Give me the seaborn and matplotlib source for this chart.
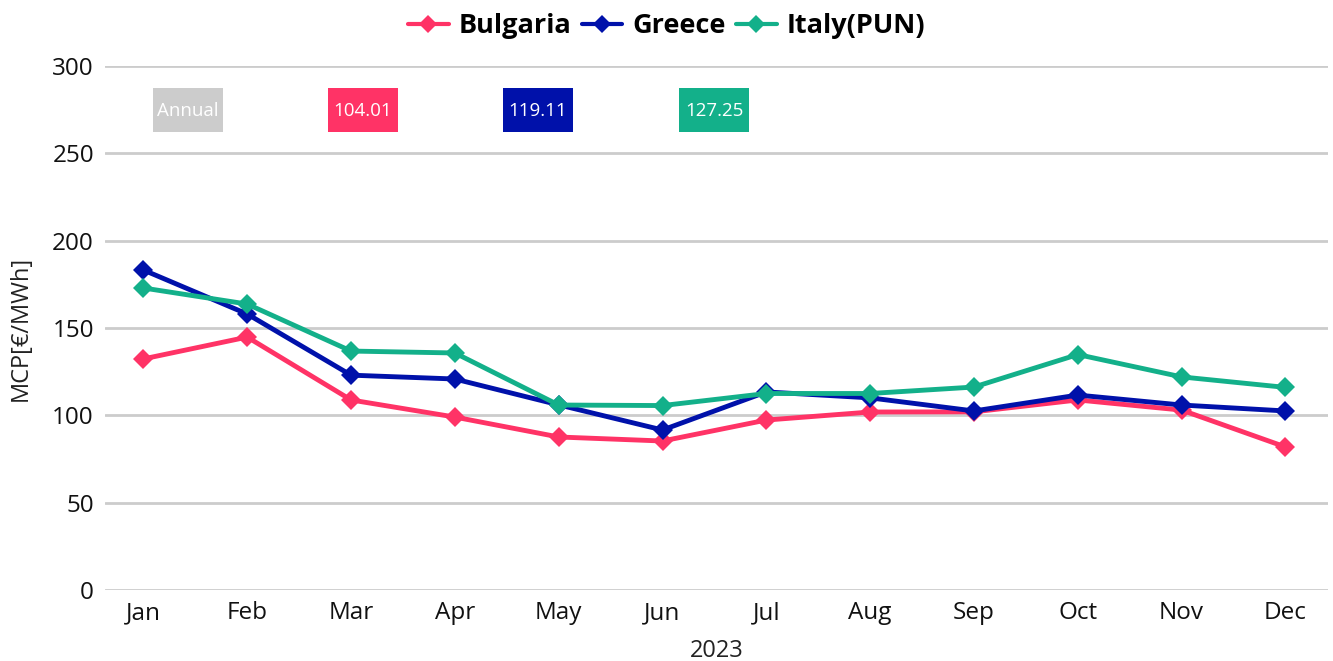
import pandas as pd
import matplotlib.pyplot as plt
import seaborn as sns
from matplotlib.patches import Rectangle

# Monthly MCP 2023
months = ['Jan', 'Feb', 'Mar', 'Apr', 'May', 'Jun', 'Jul', 'Aug', 'Sep', 'Oct', 'Nov', 'Dec']
bulgaria = [132.3, 144.8, 108.8, 99.0, 87.6, 85.3, 97.3, 101.9, 102.0, 108.8, 103.0, 81.9]
greece = [183.2, 158.0, 123.0, 120.8, 106.0, 91.6, 113.4, 110.0, 102.5, 111.6, 105.9, 102.5]
italy = [172.9, 163.7, 136.8, 135.7, 105.9, 105.6, 112.5, 112.5, 116.2, 134.8, 122.0, 116.0]
series_names = ['Bulgaria', 'Greece', 'Italy(PUN)']
annual_values = ['104.01', '119.11', '127.25']
colors = ['#FF3366', '#0011AA', '#13B08A']

df = pd.DataFrame({
    'month': months * 3,
    'pos': list(range(12)) * 3,
    'value': bulgaria + greece + italy,
    'series': [s for s in series_names for _ in months],
})

sns.set_style('white')
plt.rcParams['font.family'] = ['Open Sans', 'DejaVu Sans']

fig = plt.figure(figsize=(13.33, 6.61), dpi=100)
ax = fig.add_axes([105 / 1333, 1 - 590 / 661, (1328 - 105) / 1333, (590 - 66) / 661])

sns.lineplot(data=df, x='pos', y='value', hue='series', palette=colors,
             marker='D', markersize=10.5, markeredgewidth=0, linewidth=3.5,
             ax=ax, legend=False)

ax.set_ylim(0, 300)
ax.set_xlim(-0.37, 11.41)
ax.set_yticks(range(0, 301, 50))
ax.set_xticks(range(12))
ax.set_xticklabels(months)
ax.tick_params(axis='both', length=0, labelsize=17.5, pad=8, labelcolor='#111111')
ax.grid(axis='y', color='#CCCCCC', linewidth=2)
ax.set_axisbelow(True)
for s in ax.spines.values():
    s.set_visible(False)
ax.set_xlabel('2023', fontsize=17, color='#222222', labelpad=10)
ax.set_ylabel('MCP[€/MWh]', fontsize=17, color='#222222', labelpad=14)

# legend on top
handles = [plt.Line2D([], [], color=c, marker='D', markersize=9, linewidth=3, markeredgewidth=0)
           for c in colors]
leg = fig.legend(handles, series_names, loc='center', bbox_to_anchor=(0.5, 1 - 26 / 661), ncol=3,
                 frameon=False, prop={'weight': 'bold', 'size': 19.5}, handlelength=1.5,
                 handletextpad=0.35, columnspacing=0.4, labelcolor='black')

# annual boxes
box_x = [153, 328, 503, 679]
labels = ['Annual'] + annual_values
box_colors = ['#CCCCCC'] + colors
for bx, lab, bc in zip(box_x, labels, box_colors):
    fig.patches.append(Rectangle((bx / 1333, 1 - 132 / 661), 70 / 1333, 44 / 661,
                                 transform=fig.transFigure, facecolor=bc, edgecolor='none'))
    fig.text((bx + 35) / 1333, 1 - 111 / 661, lab, ha='center', va='center',
             color='white', fontsize=13.5)

fig.savefig('out.png', dpi=100)
